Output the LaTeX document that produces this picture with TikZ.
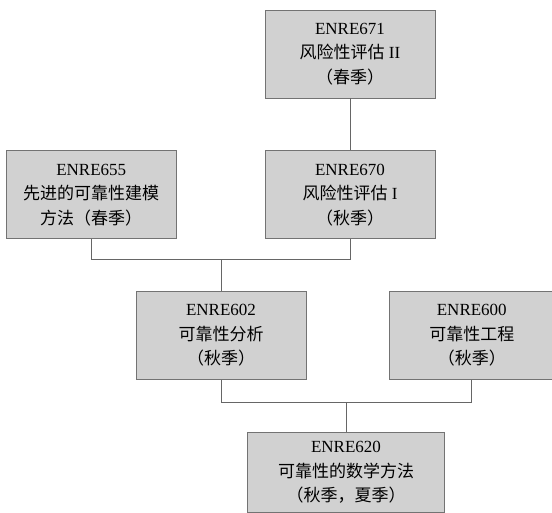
\documentclass[tikz,border=0pt]{standalone}
\usepackage{fontspec}
\setmainfont{Liberation Serif}
\newfontfamily\cjk{Noto Sans CJK SC}
\usetikzlibrary{positioning}
\tikzset{
	course/.style={draw=black!55, fill=black!18, line width=0.8pt, minimum width=170pt, minimum height=88pt,
		align=center, inner sep=2pt, font=\fontsize{17pt}{24.5pt}\selectfont},
	link/.style={draw=black!60, line width=0.7pt}
}
\begin{document}
\begin{tikzpicture}
					\useasboundingbox (0,0) rectangle (552pt,-513pt);
					\node[course]   (e671) at (350pt,-54pt)      {ENRE671\\{\cjk 风险性评估} II\\{\cjk （春季）}};
					\node[course] 	(e670) [below=52pt of e671] {ENRE670\\{\cjk 风险性评估} I\\{\cjk （秋季）}};
					\node[course] 	(e655) [left=88pt of e670]  {ENRE655\\{\cjk 先进的可靠性建模}\\{\cjk 方法（春季）}};
					\node[course] 	(e602) [below=52pt of e670, xshift=-129pt] {ENRE602\\{\cjk 可靠性分析}\\{\cjk （秋季）}};
					\node[course, minimum width=164pt] (e600) [right=83pt of e602] {ENRE600\\{\cjk 可靠性工程}\\{\cjk （秋季）}};
					\node[course, minimum width=197pt, minimum height=80pt] (e620) [below=52pt of e602, xshift=125pt] {ENRE620\\{\cjk 可靠性的数学方法}\\{\cjk （秋季，夏季）}};

					\draw[link] (e671) -- (e670)
						(e655.south) -- ++(0,-20pt) -| (e670.south)
						(e602.north) -- ++(0,32pt)
						(e602.south) -- ++(0,-22pt) -| (e600.south)
						(e620.north) -- ++(0,30pt);
				\end{tikzpicture}
\end{document}
